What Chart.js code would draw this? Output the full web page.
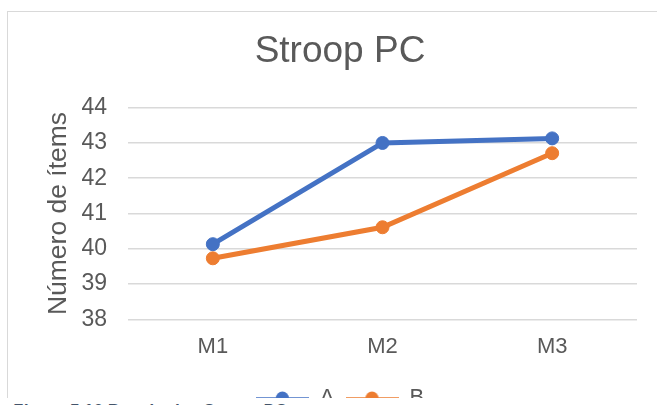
<!DOCTYPE html>
<html>
<head>
<meta charset="utf-8">
<script src="https://cdn.jsdelivr.net/npm/chart.js@4"></script>
<style>
  html, body { margin: 0; padding: 0; background: #fff; width: 657px; height: 405px; overflow: hidden; }
  #frame { position: absolute; left: 7px; top: 11px; width: 700px; height: 407px; border: 1px solid #d9d9d9; background: #fff; }
  #frame canvas { display: block; }
  #caption { position: absolute; left: 0; top: 398px; width: 657px; height: 30px; background: #fff;
    font-family: "Liberation Sans", Arial, sans-serif; font-style: italic; font-weight: bold; font-size: 17px;
    line-height: 20px; color: #44546A; padding-left: 12px; padding-top: 3px; box-sizing: border-box; }
</style>
</head>
<body>
<div id="frame"><canvas id="c" width="700" height="407"></canvas></div>
<div id="caption">Figura 5.16 Resultados Stroop PC</div>
<script>
const categories = ['M1', 'M2', 'M3'];
const seriesNames = ['A', 'B'];
const seriesA = [40.13, 43.0, 43.13];
const seriesB = [39.73, 40.61, 42.71];
const yMin = 38;
const yMax = 44;
const yStep = 1;
const chartTitle = 'Stroop PC';
const yAxisTitle = 'Número de ítems';

const BLUE = '#4472C4';
const ORANGE = '#ED7D31';
const TEXT = '#595959';
const GRID = '#d9d9d9';
const FONT = '"Liberation Sans", Arial, sans-serif';

function legendIcon(color) {
  const cv = document.createElement('canvas');
  cv.width = 53; cv.height = 16;
  const g = cv.getContext('2d');
  g.strokeStyle = color; g.lineWidth = 1.5;
  g.beginPath(); g.moveTo(0, 8); g.lineTo(53, 8); g.stroke();
  g.fillStyle = color;
  g.beginPath(); g.arc(26.5, 8, 6.5, 0, Math.PI * 2); g.fill();
  return cv;
}
const icons = [legendIcon(BLUE), legendIcon(ORANGE)];

new Chart(document.getElementById('c'), {
  type: 'line',
  data: {
    labels: categories,
    datasets: [
      { label: seriesNames[0], data: seriesA, borderColor: BLUE, backgroundColor: BLUE,
        borderWidth: 5, pointRadius: 6.5, pointBorderWidth: 1, pointBackgroundColor: BLUE, pointBorderColor: BLUE, tension: 0 },
      { label: seriesNames[1], data: seriesB, borderColor: ORANGE, backgroundColor: ORANGE,
        borderWidth: 5, pointRadius: 6.5, pointBorderWidth: 1, pointBackgroundColor: ORANGE, pointBorderColor: ORANGE, tension: 0 }
    ]
  },
  options: {
    responsive: false,
    animation: false,
    devicePixelRatio: 1,
    layout: { padding: { left: 35, right: 71, top: 18, bottom: 0 } },
    plugins: {
      title: { display: true, text: chartTitle, color: TEXT,
        font: { family: FONT, size: 37, weight: 'normal' }, padding: { top: 0, bottom: 33.3 } },
      legend: {
        position: 'bottom',
        labels: {
          usePointStyle: true, pointStyleWidth: 53, padding: 11, color: TEXT,
          font: { family: FONT, size: 22 },
          generateLabels: (chart) => Chart.defaults.plugins.legend.labels.generateLabels(chart)
            .map((l, i) => Object.assign(l, { pointStyle: icons[i] }))
        }
      },
      tooltip: { enabled: false }
    },
    scales: {
      x: {
        offset: true,
        grid: { display: false, drawTicks: false },
        border: { display: false },
        ticks: { color: TEXT, padding: 14, font: { family: FONT, size: 22 } },
        afterFit: (s) => { s.height = 56.7; }
      },
      y: {
        min: yMin, max: yMax,
        grid: { color: GRID, lineWidth: 1.5, drawTicks: false },
        border: { display: false },
        ticks: { stepSize: yStep, color: TEXT, padding: 21, font: { family: FONT, size: 23 } },
        title: { display: true, text: yAxisTitle, color: TEXT, padding: 0, font: { family: FONT, size: 26.5 } },
        afterFit: (s) => { s.width = 85; }
      }
    }
  }
});
</script>
</body>
</html>
